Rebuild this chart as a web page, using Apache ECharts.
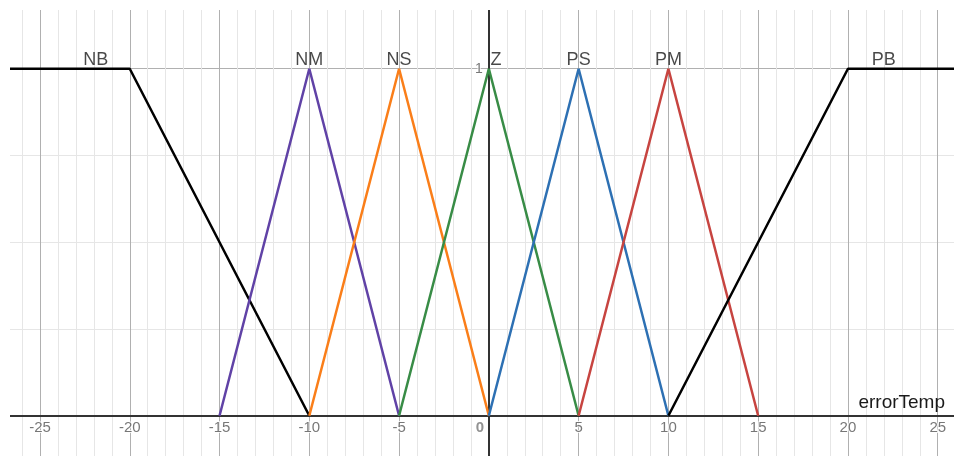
<!DOCTYPE html>
<html>
<head>
<meta charset="utf-8">
<script src="https://cdn.jsdelivr.net/npm/echarts@6/dist/echarts.min.js"></script>
<style>html,body{margin:0;padding:0;background:#fff}#c{width:954px;height:456px}</style>
</head>
<body>
<div id="c"></div>
<script>
// tick labels shown on the axes
const xTickLabels = [-25, -20, -15, -10, -5, 0, 5, 10, 15, 20, 25];
const yTickLabels = [1];

// membership functions (x, y) vertices
const nbX = [-27, -20, -10];  const nbY = [1, 1, 0];
const nmX = [-15, -10, -5];   const nmY = [0, 1, 0];
const nsX = [-10, -5, 0];     const nsY = [0, 1, 0];
const zX  = [-5, 0, 5];       const zY  = [0, 1, 0];
const psX = [0, 5, 10];       const psY = [0, 1, 0];
const pmX = [5, 10, 15];      const pmY = [0, 1, 0];
const pbX = [10, 20, 27];     const pbY = [0, 1, 1];

// set labels
const setNames = ['NB', 'NM', 'NS', 'Z', 'PS', 'PM', 'PB'];
const setLabelX = [-21.9, -10, -5, 0.4, 5, 10, 22];
const setLabelY = [1, 1, 1, 1, 1, 1, 1];

const xAxisName = 'errorTemp';

const FONT = 'Arial, "Liberation Sans", sans-serif';
const zip = (xs, ys) => xs.map((x, i) => [x, ys[i]]);
const lineSeries = (name, xs, ys, color) => ({
  name, type: 'line', data: zip(xs, ys), symbol: 'none',
  lineStyle: { color, width: 2.5 }, itemStyle: { color },
  animation: false, z: 3
});

const chart = echarts.init(document.getElementById('c'), null, { renderer: 'canvas' });
chart.setOption({
  backgroundColor: '#fff',
  animation: false,
  grid: { left: -49.8, right: -73.5, top: -278.3, bottom: -306.7, containLabel: false, outerBoundsMode: 'none' },
  xAxis: {
    type: 'value', min: -30, max: 30, interval: 5,
    axisLine: { onZero: true, lineStyle: { color: '#333', width: 2 } },
    axisTick: { show: false },
    axisLabel: { show: false },
    minorTick: { show: false, splitNumber: 5 },
    splitLine: { show: true, lineStyle: { color: '#b0b0b0', width: 1 } },
    minorSplitLine: { show: true, lineStyle: { color: '#e6e6e6', width: 1 } }
  },
  yAxis: {
    type: 'value', min: -1, max: 2, interval: 1,
    axisLine: { onZero: true, lineStyle: { color: '#333', width: 2 } },
    axisTick: { show: false },
    axisLabel: { show: false },
    minorTick: { show: false, splitNumber: 4 },
    splitLine: { show: true, lineStyle: { color: '#b0b0b0', width: 1 } },
    minorSplitLine: { show: true, lineStyle: { color: '#e6e6e6', width: 1 } }
  },
  series: [
    lineSeries('NB', nbX, nbY, '#000000'),
    lineSeries('NM', nmX, nmY, '#6042a6'),
    lineSeries('NS', nsX, nsY, '#fa7e19'),
    lineSeries('Z', zX, zY, '#388c46'),
    lineSeries('PS', psX, psY, '#2d70b3'),
    lineSeries('PM', pmX, pmY, '#c74440'),
    lineSeries('PB', pbX, pbY, '#000000'),
    {
      type: 'scatter', symbolSize: 0, silent: true, z: 5,
      data: setNames.map((n, i) => [setLabelX[i], setLabelY[i], n]),
      label: {
        show: true, position: 'top', distance: 0,
        formatter: p => p.data[2],
        color: '#1a1a1a', fontSize: 18, fontFamily: FONT
      }
    },
    {
      type: 'scatter', symbolSize: 0, silent: true, z: 5,
      data: xTickLabels.map(v => ({
        value: [v, 0],
        label: v === 0 ? { offset: [-9, 0], fontWeight: 'bold', color: '#777' } : {}
      })),
      label: {
        show: true, position: 'bottom', distance: 5,
        formatter: p => String(p.value[0]),
        color: '#555', fontSize: 15, fontFamily: FONT,
        textBorderColor: '#fff', textBorderWidth: 2
      }
    },
    {
      type: 'scatter', symbolSize: 0, silent: true, z: 5,
      data: yTickLabels.map(v => [0, v]),
      label: {
        show: true, position: 'left', distance: 6,
        formatter: p => String(p.value[1]),
        color: '#555', fontSize: 14, fontFamily: FONT,
        textBorderColor: '#fff', textBorderWidth: 2
      }
    }
  ],
  graphic: [
    { type: 'rect', left: 0, top: 0, shape: { width: 10, height: 456 }, style: { fill: '#fff' }, z: 100, silent: true },
    { type: 'rect', left: 0, top: 0, shape: { width: 954, height: 10 }, style: { fill: '#fff' }, z: 100, silent: true },
    { type: 'text', right: 9, top: 393, z: 101,
      style: { text: xAxisName, fill: '#1a1a1a', fontSize: 19, fontFamily: FONT } }
  ]
});
</script>
</body>
</html>
